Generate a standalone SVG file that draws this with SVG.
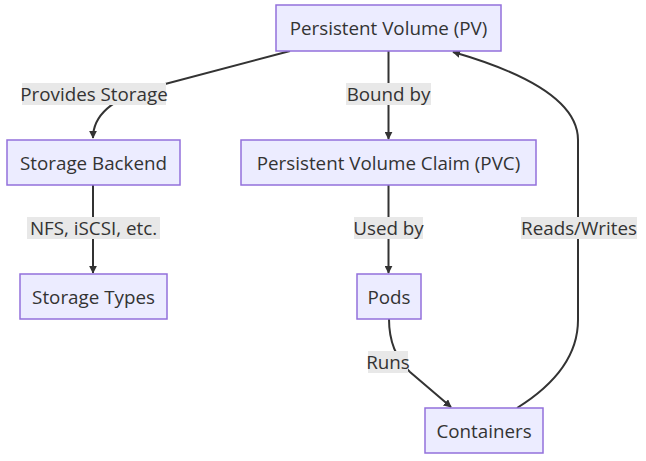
<svg xmlns="http://www.w3.org/2000/svg" width="646" height="461" viewBox="0 0 646 461">
<style>
.node rect{fill:#ECECFF;stroke:#9370DB;stroke-width:1.5}
text{font-family:"Open Sans","Noto Sans",sans-serif;font-size:18.8px;fill:#333;text-anchor:middle;dominant-baseline:central}
.edge{fill:none;stroke:#333;stroke-width:2}
.lbl rect{fill:#e8e8e8;stroke:none}
</style>
<defs>
<marker id="arr" viewBox="0 0 10 10" refX="9" refY="5" markerWidth="8" markerHeight="8" markerUnits="userSpaceOnUse" orient="auto">
<path d="M0,0 L10,5 L0,10 z" fill="#333"/>
</marker>
</defs>
<rect width="646" height="461" fill="#fff"/>
<g id="edges">
<path class="edge" d="M290,51 L150,88 Q93,104 93,138" marker-end="url(#arr)"/>
<path class="edge" d="M388.5,51 L388.5,139" marker-end="url(#arr)"/>
<path class="edge" d="M388.5,185 L388.5,273" marker-end="url(#arr)"/>
<path class="edge" d="M93,185 L93,273" marker-end="url(#arr)"/>
<path class="edge" d="M389,319 Q389,352 410,372 L451,407" marker-end="url(#arr)"/>
<path class="edge" d="M517,408 Q578,370 578,320 L578,140 Q578,88 453,52" marker-end="url(#arr)"/>
</g>
<g id="labels">
<g class="lbl"><rect x="22" y="83" width="144" height="22"/><text x="94" y="94">Provides Storage</text></g>
<g class="lbl"><rect x="346" y="83" width="85" height="22"/><text x="388.5" y="94">Bound by</text></g>
<g class="lbl"><rect x="27" y="217" width="133" height="22"/><text x="93.5" y="228">NFS, iSCSI, etc.</text></g>
<g class="lbl"><rect x="354" y="217" width="69" height="22"/><text x="388.5" y="228">Used by</text></g>
<g class="lbl"><rect x="521" y="217" width="116" height="22"/><text x="579" y="228">Reads/Writes</text></g>
<g class="lbl"><rect x="368" y="351" width="40" height="22"/><text x="388" y="362">Runs</text></g>
</g>
<g id="pv" class="node"><rect x="276" y="5" width="225" height="46"/><text x="388.5" y="28">Persistent Volume (PV)</text></g>
<g id="backend" class="node"><rect x="7" y="140" width="173" height="45"/><text x="93.5" y="162.5">Storage Backend</text></g>
<g id="pvc" class="node"><rect x="241" y="140" width="295" height="45"/><text x="388.5" y="162.5">Persistent Volume Claim (PVC)</text></g>
<g id="types" class="node"><rect x="20" y="274" width="147" height="45"/><text x="93.5" y="296.5">Storage Types</text></g>
<g id="pods" class="node"><rect x="357" y="274" width="64" height="45"/><text x="389" y="296.5">Pods</text></g>
<g id="containers" class="node"><rect x="425" y="408" width="118" height="45"/><text x="484" y="430.5">Containers</text></g>
</svg>
